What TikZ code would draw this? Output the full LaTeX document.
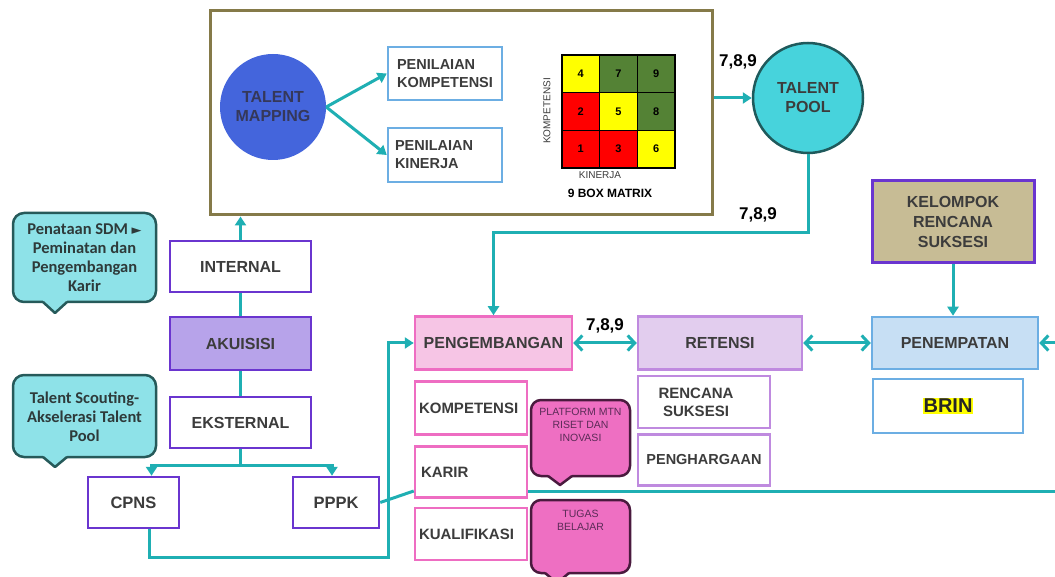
\documentclass[tikz,border=0pt]{standalone}
\usepackage{fontspec}
\setmainfont{Liberation Sans}
\newfontfamily\calloutfont{Carlito}
\newfontfamily\symfont{DejaVu Sans}
\usetikzlibrary{arrows.meta,calc}

\definecolor{txtgray}{HTML}{3C3C3C}
\definecolor{tealline}{HTML}{1FAFB3}
\definecolor{olivefr}{HTML}{857A49}
\definecolor{violetline}{HTML}{6A35CF}
\definecolor{akufill}{HTML}{B7A3EA}
\definecolor{pinkline}{HTML}{EE6DC2}
\definecolor{pengfill}{HTML}{F6C5E5}
\definecolor{lavline}{HTML}{BF8ADF}
\definecolor{retfill}{HTML}{E2CDEE}
\definecolor{blueline}{HTML}{6CAEE3}
\definecolor{penfill}{HTML}{C7DFF4}
\definecolor{kelfill}{HTML}{C7BC95}
\definecolor{mapblue}{HTML}{4465DC}
\definecolor{mapsvtext}{HTML}{35385A}
\definecolor{poolcyan}{HTML}{47D3DC}
\definecolor{pooledge}{HTML}{1F5A5C}
\definecolor{calloutcyan}{HTML}{8EE2E8}
\definecolor{calloutedge}{HTML}{265A5A}
\definecolor{callouttext}{HTML}{2E3A3A}
\definecolor{hotpink}{HTML}{EE6FC2}
\definecolor{hotpinkedge}{HTML}{4A1A3E}
\definecolor{hotpinktext}{HTML}{5B2B57}
\definecolor{boxgreen}{HTML}{548235}
\definecolor{boxred}{HTML}{FF0000}
\definecolor{boxyellow}{HTML}{FFFF00}

\setlength{\fboxsep}{1pt}

\begin{document}
\begin{tikzpicture}[x=1pt,y=-1pt,
  lbl/.style={font=\fontsize{16}{18}\selectfont\bfseries, text=txtgray, align=center},
  smalllbl/.style={font=\fontsize{15}{18}\selectfont\bfseries},
  boxbase/.style={rectangle, line width=2.5pt, inner sep=2pt, lbl},
  purplebox/.style={boxbase, draw=violetline, fill=white},
  pinkbox/.style={boxbase, draw=pinkline, fill=white},
  lavbox/.style={boxbase, draw=lavline, fill=white},
  bluebox/.style={boxbase, draw=blueline, fill=white},
  tline/.style={draw=tealline, line width=3pt},
  tarrow/.style={tline, -{Triangle[length=9pt,width=11pt]}},
  chevron/.style={tline, {Straight Barb[length=7pt,width=15pt]}-{Straight Barb[length=7pt,width=15pt]}},
  chevronend/.style={tline, -{Straight Barb[length=7pt,width=15pt]}},
  cell/.style={rectangle, draw=black, line width=1.2pt, minimum size=37.7pt, inner sep=0pt,
    font=\fontsize{11}{12}\selectfont\bfseries},
  callcyan/.style={rectangle, rounded corners=11pt, draw=calloutedge, fill=calloutcyan, line width=2.5pt,
    font=\calloutfont\bfseries\fontsize{16.5}{19}\selectfont, text=callouttext, align=center, inner sep=2pt},
  callpink/.style={rectangle, rounded corners=10pt, draw=hotpinkedge, fill=hotpink, line width=2.5pt,
    font=\fontsize{10.5}{13}\selectfont, text=hotpinktext, align=center, inner sep=2pt},
  tag/.style={font=\fontsize{17}{18}\selectfont\bfseries, text=black, inner sep=1pt}
]
\useasboundingbox (0,0) rectangle (1055,577);
\clip (0,0) rectangle (1055,577);

% ---------- talent mapping frame ----------
\node[draw=olivefr, line width=3pt, fill=white, minimum width=502pt, minimum height=204pt, inner sep=0pt]
  (frame) at (461,113) {};
\node[circle, fill=mapblue, minimum size=106pt, inner sep=0pt,
  font=\fontsize{16}{19}\selectfont\bfseries, text=mapsvtext, align=center]
  (tm) at (273,107) {TALENT\\MAPPING};
\node[bluebox, minimum width=114pt, minimum height=53pt, align=left,
  font=\fontsize{14.5}{18}\selectfont\bfseries] (pk) at (445,73.5) {PENILAIAN\\KOMPETENSI};
\node[bluebox, minimum width=114pt, minimum height=54pt, align=left,
  font=\fontsize{14.5}{18}\selectfont\bfseries, text width=100pt] (pkin) at (445,155) {PENILAIAN\\KINERJA};
\draw[tarrow] (tm.east) -- (pk.west);
\draw[tarrow] (tm.east) -- (pkin.west);

% 9 box matrix
\node[cell, fill=boxyellow] (c4) at (580.8,73.8) {4};
\node[cell, fill=boxgreen]  (c7) at (618.5,73.8) {7};
\node[cell, fill=boxgreen]  (c9) at (656.2,73.8) {9};
\node[cell, fill=boxred]    (c2) at (580.8,111.5) {2};
\node[cell, fill=boxyellow] (c5) at (618.5,111.5) {5};
\node[cell, fill=boxgreen]  (c8) at (656.2,111.5) {8};
\node[cell, fill=boxred]    (c1) at (580.8,149.2) {1};
\node[cell, fill=boxred]    (c3) at (618.5,149.2) {3};
\node[cell, fill=boxyellow] (c6) at (656.2,149.2) {6};
\node[rotate=90, font=\fontsize{10}{12}\selectfont, text=txtgray, inner sep=0pt] (axk) at (547,111) {KOMPETENSI};
\node[font=\fontsize{10}{12}\selectfont, text=txtgray, inner sep=0pt] (axp) at (600,175) {KINERJA};
\node[font=\fontsize{12}{14}\selectfont\bfseries, text=black, inner sep=0pt] (nbm) at (610,193) {9 BOX MATRIX};

% ---------- talent pool ----------
\node[circle, fill=poolcyan, draw=pooledge, line width=2.5pt, minimum size=110pt, inner sep=0pt,
  font=\fontsize{16}{19}\selectfont\bfseries, text=txtgray, align=center]
  (pool) at (808,98) {TALENT\\POOL};
\node[tag] (t1) at (738,62) {7,8,9};
\node[tag] (t2) at (758,215) {7,8,9};
\node[tag] (t3) at (605,326) {7,8,9};

% ---------- succession / placement ----------
\node[rectangle, draw=violetline, fill=kelfill, line width=3pt, minimum width=162pt, minimum height=82pt,
  lbl, font=\fontsize{16}{20}\selectfont\bfseries] (kel) at (953,222) {KELOMPOK\\RENCANA\\SUKSESI};
\node[bluebox, fill=penfill, minimum width=166pt, minimum height=52pt] (pen) at (955,343) {PENEMPATAN};
\node[bluebox, minimum width=150pt, minimum height=54pt] (brin) at (948,406)
  {\colorbox{boxyellow}{\fontsize{20}{22}\selectfont\bfseries\color{black!85}BRIN}};
\node[lavbox, fill=retfill, minimum width=164pt, minimum height=53pt] (ret) at (720,343) {RETENSI};
\node[lavbox, smalllbl, minimum width=132pt, minimum height=52pt] (rs) at (704,402) {RENCANA\hspace*{16pt}\\SUKSESI\hspace*{16pt}};
\node[lavbox, font=\fontsize{14.5}{18}\selectfont\bfseries, minimum width=132pt, minimum height=51pt] (phg) at (704,460) {PENGHARGAAN};

% ---------- development ----------
\node[pinkbox, fill=pengfill, minimum width=157pt, minimum height=53pt] (peng) at (493.5,343) {PENGEMBANGAN};
\node[pinkbox, smalllbl, minimum width=112pt, minimum height=53pt, text width=104pt, align=left] (kom) at (471,408) {KOMPETENSI};
\node[pinkbox, smalllbl, minimum width=112pt, minimum height=51pt, text width=104pt, align=left] (kar) at (471,472) {\hspace*{2pt}KARIR};
\node[pinkbox, smalllbl, minimum width=112pt, minimum height=52pt, text width=104pt, align=left] (kua) at (471,534) {KUALIFIKASI};

\node[callpink, minimum width=99pt, minimum height=76pt] (plat) at (580.5,438)
  {PLATFORM MTN\\RISET DAN\\INOVASI\\[14pt]};
\fill[hotpink] (548,472) -- (572,472) -- (572,475) -- (560,484) -- (548,475) -- cycle;
\draw[draw=hotpinkedge, line width=2.5pt, line join=round] (548,476) -- (560,485) -- (572,476);

\node[callpink, minimum width=99pt, minimum height=73pt] (tugas) at (580.5,536.5)
  {TUGAS\\BELAJAR\\[20pt]};
\fill[hotpink] (545,569) -- (569,569) -- (569,572) -- (557,583) -- (545,572) -- cycle;
\draw[draw=hotpinkedge, line width=2.5pt, line join=round] (545,573) -- (557,583) -- (569,573);

% ---------- acquisition ----------
\node[purplebox, minimum width=141pt, minimum height=51pt] (int) at (240.5,266.5) {INTERNAL};
\node[purplebox, fill=akufill, minimum width=141pt, minimum height=53pt] (aku) at (240.5,343.5) {AKUISISI};
\node[purplebox, minimum width=141pt, minimum height=51pt] (eks) at (240.5,422.5) {EKSTERNAL};
\node[purplebox, minimum width=91pt, minimum height=51pt, font=\fontsize{16.5}{18}\selectfont\bfseries] (cpns) at (133.5,502.5) {CPNS};
\node[purplebox, minimum width=86pt, minimum height=51pt, font=\fontsize{16.5}{18}\selectfont\bfseries] (pppk) at (336,502.5) {PPPK};

% ---------- left callouts ----------
\node[callcyan, minimum width=143pt, minimum height=89pt] (cb1) at (84.5,257.5)
  {Penataan SDM {\symfont\fontsize{13}{14}\selectfont ►}\\Peminatan dan\\Pengembangan\\Karir};
\fill[calloutcyan] (43,298) -- (67,298) -- (67,301) -- (55,312) -- (43,301) -- cycle;
\draw[draw=calloutedge, line width=2.5pt, line join=round] (43,302) -- (55,313) -- (67,302);

\node[callcyan, minimum width=143pt, minimum height=82pt] (cb2) at (84.5,416)
  {\\[-6pt]Talent Scouting-\\Akselerasi Talent\\Pool};
\fill[calloutcyan] (43,453) -- (67,453) -- (67,456) -- (55,466) -- (43,456) -- cycle;
\draw[draw=calloutedge, line width=2.5pt, line join=round] (43,457) -- (55,467) -- (67,457);

% ---------- connectors ----------
\coordinate (poolbend) at (808,233);
\coordinate (split) at (244,465);
\coordinate (cbend) at (388,557);
\coordinate (rail) at (1055,491);
\coordinate (penin) at (1055,343);

\draw[tarrow] (pool.west -| frame.east) -- (pool.west);
\draw[tarrow] (pool.south) -- (poolbend) -| (peng.north);
\draw[tarrow] (int.north) -- (int.north |- frame.south);
\draw[tline] (aku.north) -- (int.south);
\draw[tline] (aku.south) -- (eks.north);
\draw[tline] (eks.south) -- (eks.south |- split);
\draw[tarrow] (eks.south |- split) -| ([xshift=18pt]cpns.north);
\draw[tarrow] (eks.south |- split) -| ([xshift=-4pt]pppk.north);
\draw[tarrow] ([xshift=16pt]cpns.south) |- (cbend) |- (peng.west);
\draw[tline] (pppk.east) -- (kar.west |- rail);
\draw[tline] (kar.east |- rail) -- (rail);
\draw[tarrow] (kel.south) -- (kel.south |- pen.north);
\draw[chevron] (peng.east) -- (ret.west);
\draw[chevron] (ret.east) -- (pen.west);
\draw[chevronend] (penin) -- (pen.east);
\end{tikzpicture}
\end{document}
